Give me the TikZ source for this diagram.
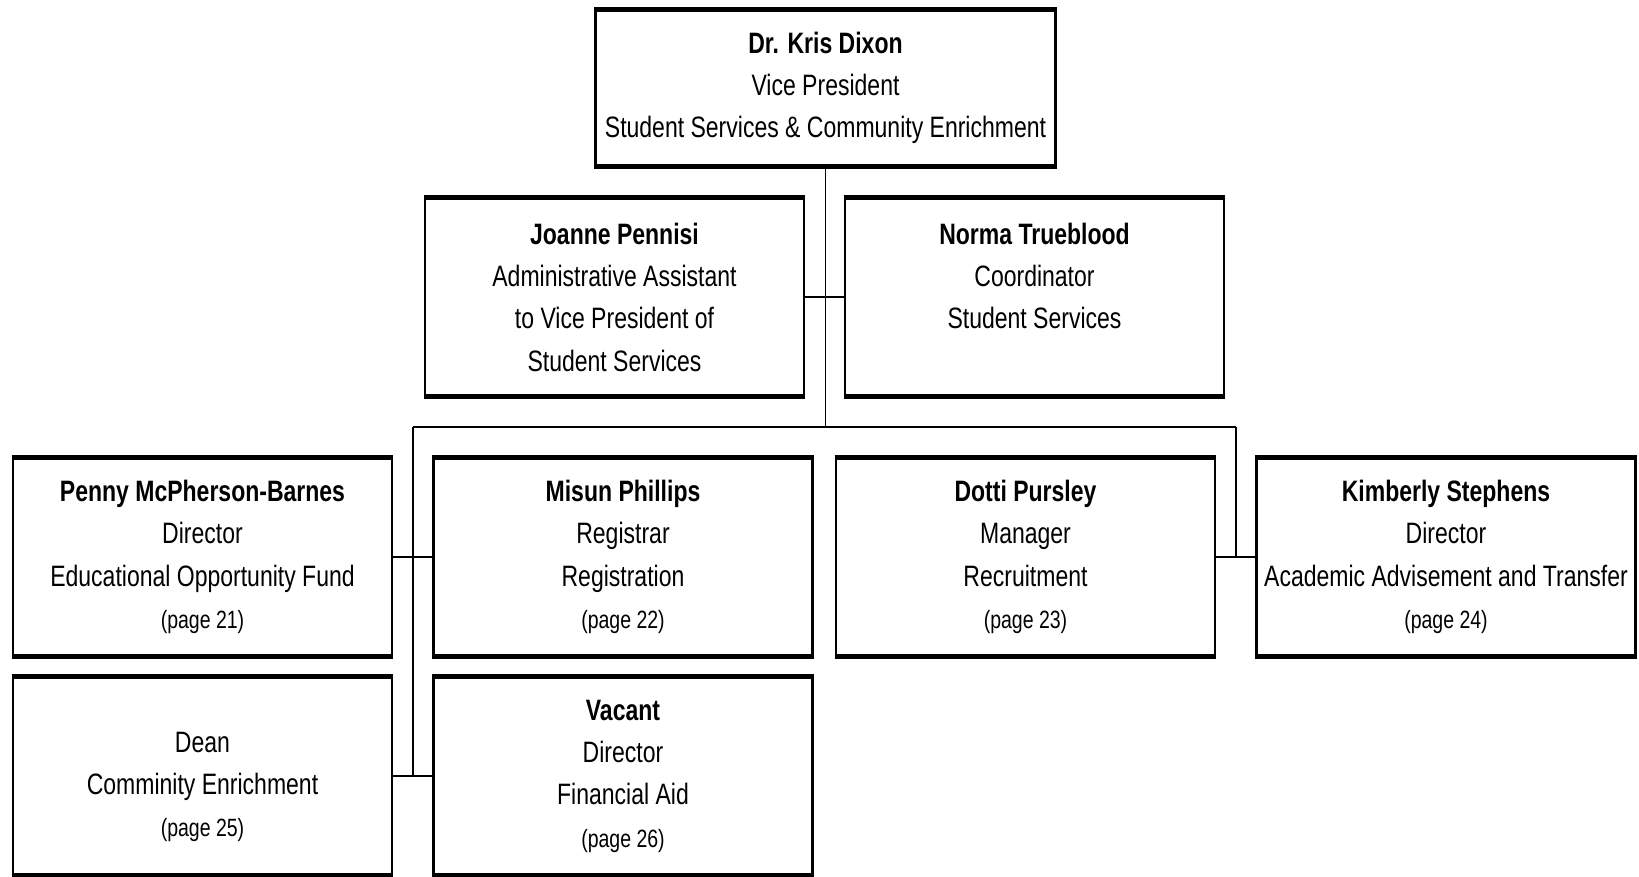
\documentclass[tikz,border=0pt]{standalone}
\usepackage{fontspec}
\setmainfont{Liberation Sans}[FakeStretch=0.78]
\usetikzlibrary{positioning}

\newcommand{\pg}[1]{{\fontsize{25}{42.3}\selectfont (page #1)}}

\begin{document}
\begin{tikzpicture}[x=1pt, y=-1pt,
	post/.style={draw, line width=2.8pt, minimum width=379pt, minimum height=197pt, align=center, inner sep=0pt, font=\fontsize{29.5}{42.3}\selectfont,
		append after command={(\tikzlastnode.north west) edge[line width=4.4pt] (\tikzlastnode.north east)
			(\tikzlastnode.south west) edge[line width=4.4pt] (\tikzlastnode.south east)}},
	link/.style={line width=1.8pt}]

		\useasboundingbox (0,0) rectangle (1639,876);
		% top
		\node[post, minimum width=460pt, minimum height=155pt] (vp) at (825.5,88) {\textbf{Dr. Kris Dixon}\\Vice President\\Student Services \& Community Enrichment};
		% staff
		\node[post] (jp) at (614.5,297) {\textbf{Joanne Pennisi}\\Administrative Assistant\\to Vice President of\\Student Services};
		\node[post] (nt) at (1034.5,297) {\textbf{Norma Trueblood}\\Coordinator\\Student Services\\~};
		% departments
		\node[post] (pmb) at (202.5,557) {\textbf{Penny McPherson-Barnes}\\Director\\Educational Opportunity Fund\\\pg{21}};
		\node[post] (mp) at (623,557) {\textbf{Misun Phillips}\\Registrar\\Registration\\\pg{22}};
		\node[post] (dp) at (1025.5,557) {\textbf{Dotti Pursley}\\Manager\\Recruitment\\\pg{23}};
		\node[post] (ks) at (1446,557) {\textbf{Kimberly Stephens}\\Director\\Academic Advisement and Transfer\\\pg{24}};
		\node[post] (dn) at (202.5,776) {~\\Dean\\Comminity Enrichment\\\pg{25}};
		\node[post] (va) at (623,776) {\textbf{Vacant}\\Director\\Financial Aid\\\pg{26}};

		\coordinate (busl) at (413,427);
		\coordinate (busr) at (1236,427);
		\draw[link] (vp.south) -- (vp.south |- busl);
		\draw[link] (jp.east) -- (nt.west);
		\draw[link] (busl) -- (busr);
		\draw[link] (busl) -- (busl |- dn.east);
		\draw[link] (busr) -- (busr |- ks.west);
		\draw[link] (pmb.east) -- (mp.west);
		\draw[link] (dn.east) -- (va.west);
		\draw[link] (dp.east) -- (ks.west);
		\end{tikzpicture}
\end{document}
